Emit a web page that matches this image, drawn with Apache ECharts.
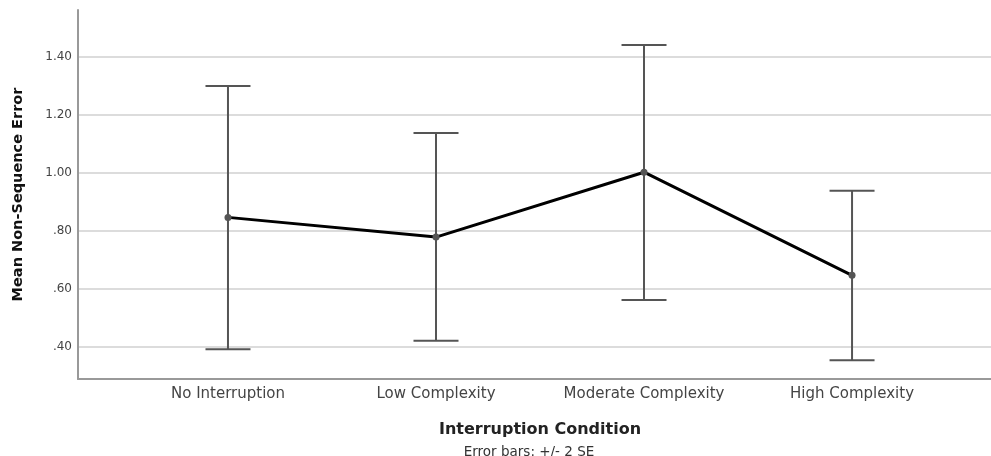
<!DOCTYPE html>
<html>
<head>
<meta charset="utf-8">
<script src="https://cdn.jsdelivr.net/npm/echarts@6/dist/echarts.min.js"></script>
<style>
  html, body { margin: 0; padding: 0; background: #fff; }
  #chart { width: 991px; height: 456px; }
</style>
</head>
<body>
<div id="chart"></div>
<script>
// Interruption conditions on the x axis
const categories = ['No Interruption', 'Low Complexity', 'Moderate Complexity', 'High Complexity'];
// Mean non-sequence error per condition
const means = [0.846, 0.778, 1.002, 0.646];
// Error bar bounds (+/- 2 SE)
const lowerBounds = [0.391, 0.420, 0.561, 0.353];
const upperBounds = [1.300, 1.137, 1.441, 0.938];
// Value axis tick labels
const yTicks = [0.4, 0.6, 0.8, 1.0, 1.2, 1.4];

const FONT = '"DejaVu Sans", Verdana, sans-serif';
const chart = echarts.init(document.getElementById('chart'), null, { renderer: 'canvas' });

const idx = categories.map((c, i) => i);
const meanData = means.map((m, i) => [i, m]);
const barData = idx.map(i => [i, lowerBounds[i], upperBounds[i]]);

chart.setOption({
  backgroundColor: '#ffffff',
  animation: false,
  title: [
    {
      text: 'Interruption Condition',
      left: 535, top: 417, textAlign: 'center',
      textStyle: { fontFamily: FONT, fontSize: 16, fontWeight: 'bold', color: '#222' }
    },
    {
      text: 'Error bars: +/- 2 SE',
      left: 524, top: 440, textAlign: 'center',
      textStyle: { fontFamily: FONT, fontSize: 13.5, fontWeight: 'normal', color: '#333' }
    }
  ],
  grid: { left: 78, right: 0, top: 10, bottom: 77, containLabel: false },
  xAxis: {
    type: 'value',
    min: -0.721,
    max: 3.668,
    axisLine: { show: true, onZero: false, lineStyle: { color: '#999', width: 2 } },
    axisTick: { show: false, customValues: idx },
    splitLine: { show: false },
    axisLabel: {
      customValues: idx,
      margin: 8,
      fontFamily: FONT, fontSize: 15, color: '#444',
      formatter: v => categories[Math.round(v)]
    }
  },
  yAxis: {
    type: 'value',
    min: 0.288,
    max: 1.562,
    name: 'Mean Non-Sequence Error',
    nameLocation: 'middle',
    nameGap: 52,
    nameRotate: 90,
    nameTextStyle: { fontFamily: FONT, fontSize: 14.5, fontWeight: 'bold', color: '#111' },
    axisLine: { show: true, onZero: false, lineStyle: { color: '#999', width: 2 } },
    axisTick: { show: false, customValues: yTicks },
    splitLine: { show: true, lineStyle: { color: '#dcdcdc', width: 2 } },
    axisLabel: {
      customValues: yTicks,
      margin: 6,
      fontFamily: FONT, fontSize: 12, color: '#444',
      formatter: v => v.toFixed(2).replace(/^0/, '')
    }
  },
  series: [
    {
      type: 'custom',
      name: 'Error bars',
      data: barData,
      z: 2,
      renderItem: function (params, api) {
        const x = api.value(0);
        const lo = api.coord([x, api.value(1)]);
        const hi = api.coord([x, api.value(2)]);
        const half = 22.5;
        const style = { stroke: '#555', lineWidth: 2, fill: null };
        return {
          type: 'group',
          children: [
            { type: 'line', shape: { x1: lo[0], y1: lo[1], x2: hi[0], y2: hi[1] }, style: style },
            { type: 'line', shape: { x1: hi[0] - half, y1: hi[1], x2: hi[0] + half, y2: hi[1] }, style: style },
            { type: 'line', shape: { x1: lo[0] - half, y1: lo[1], x2: lo[0] + half, y2: lo[1] }, style: style }
          ]
        };
      }
    },
    {
      type: 'line',
      name: 'Mean',
      data: meanData,
      z: 3,
      symbol: 'circle',
      symbolSize: 7,
      itemStyle: { color: '#555' },
      lineStyle: { color: '#000', width: 3 }
    }
  ]
});
</script>
</body>
</html>
